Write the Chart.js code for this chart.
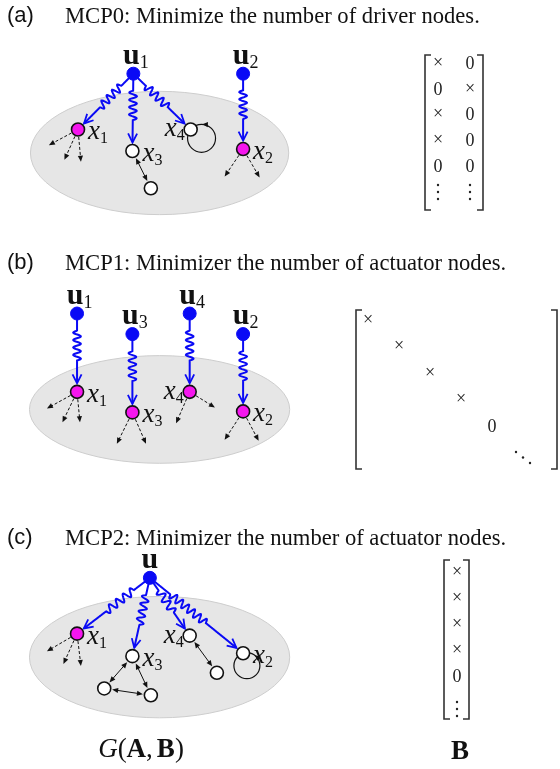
<!DOCTYPE html>
<html>
<head>
<meta charset="utf-8">
<script src="https://cdn.jsdelivr.net/npm/chart.js@4.4.0/dist/chart.umd.min.js"></script>
<style>
html, body { margin: 0; padding: 0; background: #fff; }
#wrap { width: 560px; height: 769px; position: relative; }
</style>
</head>
<body>
<div id="wrap"><canvas id="diagram"></canvas></div>
<script>
// Panel headings
const panelTags = ['(a)', '(b)', '(c)'];
const panelTitles = [
    'MCP0: Minimize the number of driver nodes.',
    'MCP1: Minimizer the number of actuator nodes.',
    'MCP2: Minimizer the number of actuator nodes.'
];

// Input (control) nodes u
const inputNodes = [
    { id: 'a_u1', x: 129, y: 67, name: 'u', sub: '1' },
    { id: 'a_u2', x: 242, y: 67, name: 'u', sub: '2' },
    { id: 'b_u1', x: 71, y: 312, name: 'u', sub: '1' },
    { id: 'b_u3', x: 128, y: 333, name: 'u', sub: '3' },
    { id: 'b_u4', x: 187, y: 312, name: 'u', sub: '4' },
    { id: 'b_u2', x: 242, y: 333, name: 'u', sub: '2' },
    { id: 'c_u', x: 146, y: 582, name: 'u', sub: '' }
];

// State nodes that are driver / actuator nodes (magenta)
const drivenNodes = [
    { id: 'a_x1', x: 72, y: 124, name: 'x', sub: '1' },
    { id: 'a_x2', x: 242, y: 144, name: 'x', sub: '2' },
    { id: 'b_x1', x: 71, y: 392, name: 'x', sub: '1' },
    { id: 'b_x3', x: 128, y: 413, name: 'x', sub: '3' },
    { id: 'b_x4', x: 187, y: 392, name: 'x', sub: '4' },
    { id: 'b_x2', x: 242, y: 412, name: 'x', sub: '2' },
    { id: 'c_x1', x: 71, y: 639, name: 'x', sub: '1' }
];

// Other state nodes (white)
const freeNodes = [
    { id: 'a_x3', x: 128, y: 146, name: 'x', sub: '3' },
    { id: 'a_x4', x: 188, y: 124, name: 'x', sub: '4' },
    { id: 'a_n1', x: 147, y: 184, name: '', sub: '' },
    { id: 'c_x3', x: 128, y: 662, name: 'x', sub: '3' },
    { id: 'c_x4', x: 187, y: 641, name: 'x', sub: '4' },
    { id: 'c_x2', x: 242, y: 659, name: 'x', sub: '2' },
    { id: 'c_n1', x: 99, y: 695, name: '', sub: '' },
    { id: 'c_n2', x: 147, y: 702, name: '', sub: '' },
    { id: 'c_n3', x: 215, y: 679, name: '', sub: '' }
];

// Wavy control links u -> x
const controlEdges = [
    ['a_u1', 'a_x1'], ['a_u1', 'a_x3'], ['a_u1', 'a_x4'], ['a_u2', 'a_x2'],
    ['b_u1', 'b_x1'], ['b_u3', 'b_x3'], ['b_u4', 'b_x4'], ['b_u2', 'b_x2'],
    ['c_u', 'c_x1'], ['c_u', 'c_x3'], ['c_u', 'c_x4'], ['c_u', 'c_x2']
];

// Dashed outgoing links (node, end x, end y)
const leakEdges = [
    ['a_x1', 42, 140], ['a_x1', 58, 155], ['a_x1', 75, 157],
    ['a_x2', 223, 172], ['a_x2', 259, 173],
    ['b_x1', 40, 409], ['b_x1', 56, 423], ['b_x1', 74, 423],
    ['b_x3', 112, 445], ['b_x3', 142, 445],
    ['b_x4', 173, 424], ['b_x4', 213, 408],
    ['b_x2', 223, 441], ['b_x2', 258, 442],
    ['c_x1', 40, 657], ['c_x1', 57, 670], ['c_x1', 75, 672]
];

// Two-way links between state nodes
const mutualEdges = [
    ['a_x3', 'a_n1'],
    ['c_x3', 'c_n1'], ['c_x3', 'c_n2'], ['c_n1', 'c_n2'], ['c_x4', 'c_n3']
];

// Self loops: node, direction (deg) of the loop centre, loop radius
const selfLoops = [['a_x4', 39, 14], ['c_x2', 73, 13]];

// Network regions (gray ellipses)
const regionCx = [156, 156, 156];
const regionCy = [148, 410, 663];
const regionRx = [133, 134, 134];
const regionRy = [63, 55, 62];

// Input matrices B
const matrixA = [['×', '0'], ['0', '×'], ['×', '0'], ['×', '0'], ['0', '0'], ['vdots', 'vdots']];
const matrixBDiag = ['×', '×', '×', '×', '0', 'ddots'];
const matrixC = [['×'], ['×'], ['×'], ['×'], ['0'], ['vdots']];

// ---- layout ----
const BLUE = '#0a0af5';
const MAGENTA = '#f516ee';
const NODE_R = 6.5;
const SERIF = '"Liberation Serif", "Times New Roman", serif';
const titleY = [23, 270, 545];
const labelLeft = ['a_x4', 'b_x4', 'c_x4'];

const allNodes = {};
[...inputNodes, ...drivenNodes, ...freeNodes].forEach(n => { allNodes[n.id] = n; });

function arrowHead(ctx, tx, ty, ux, uy, len, half, filled) {
    const bx = tx - ux * len, by = ty - uy * len;
    ctx.beginPath();
    ctx.moveTo(bx - uy * half, by + ux * half);
    ctx.lineTo(tx, ty);
    ctx.lineTo(bx + uy * half, by - ux * half);
    if (filled) { ctx.closePath(); ctx.fill(); } else { ctx.stroke(); }
}

function wavyArrow(ctx, a, b, rA, rB) {
    const dx = b.x - a.x, dy = b.y - a.y, L = Math.hypot(dx, dy);
    const ux = dx / L, uy = dy / L, nx = -uy, ny = ux;
    const start = rA, end = L - rB - 1;
    const w0 = L * 0.22, w1 = L * 0.6;
    const waves = Math.max(2, Math.round((w1 - w0) / 8));
    ctx.strokeStyle = BLUE;
    ctx.lineWidth = 2;
    ctx.setLineDash([]);
    ctx.beginPath();
    for (let t = start; t <= end; t += 0.5) {
        let off = 0;
        if (t > w0 && t < w1) off = 3.8 * Math.sin((t - w0) / (w1 - w0) * waves * 2 * Math.PI);
        const px = a.x + ux * t + nx * off, py = a.y + uy * t + ny * off;
        if (t === start) ctx.moveTo(px, py); else ctx.lineTo(px, py);
    }
    ctx.stroke();
    ctx.lineWidth = 1.8;
    arrowHead(ctx, a.x + ux * end, a.y + uy * end, ux, uy, 9, 4.5, false);
}

function plainArrow(ctx, a, b, rA, rB, dashed, twoWay) {
    const dx = b.x - a.x, dy = b.y - a.y, L = Math.hypot(dx, dy);
    const ux = dx / L, uy = dy / L;
    const sx = a.x + ux * rA, sy = a.y + uy * rA;
    const ex = b.x - ux * rB, ey = b.y - uy * rB;
    ctx.strokeStyle = '#111';
    ctx.fillStyle = '#111';
    ctx.lineWidth = 1;
    ctx.setLineDash(dashed ? [3, 2] : []);
    ctx.beginPath();
    ctx.moveTo(sx + (twoWay ? ux * 3 : 0), sy + (twoWay ? uy * 3 : 0));
    ctx.lineTo(ex - ux * 3, ey - uy * 3);
    ctx.stroke();
    ctx.setLineDash([]);
    arrowHead(ctx, ex, ey, ux, uy, 6, 2.6, true);
    if (twoWay) arrowHead(ctx, sx, sy, -ux, -uy, 6, 2.6, true);
}

function symbol(ctx, x, y, main, sub, mainFont, subFont, align) {
    ctx.font = mainFont;
    const mw = ctx.measureText(main).width;
    ctx.font = subFont;
    const sw = sub ? ctx.measureText(sub).width : 0;
    let x0 = x;
    if (align === 'right') x0 = x - mw - sw;
    if (align === 'center') x0 = x - mw / 2;
    ctx.fillStyle = '#111';
    ctx.textAlign = 'left';
    ctx.textBaseline = 'alphabetic';
    ctx.font = mainFont;
    ctx.fillText(main, x0, y);
    if (sub) {
        ctx.font = subFont;
        ctx.fillText(sub, x0 + mw, y + 4);
    }
}

function dots(ctx, x, y, diagonal) {
    ctx.fillStyle = '#222';
    for (let i = -1; i <= 1; i++) {
        ctx.beginPath();
        ctx.arc(x + (diagonal ? i * 7 : 0), y + i * (diagonal ? 5.5 : 7), 1.2, 0, Math.PI * 2);
        ctx.fill();
    }
}

function entry(ctx, text, x, y) {
    if (text === 'vdots') return dots(ctx, x, y, false);
    if (text === 'ddots') return dots(ctx, x, y, true);
    ctx.fillStyle = '#222';
    ctx.font = '18px ' + SERIF;
    ctx.textAlign = 'center';
    ctx.textBaseline = 'middle';
    ctx.fillText(text, x, y + (text === '×' ? 0 : 1));
}

function bracket(ctx, x, top, bottom, dir) {
    ctx.strokeStyle = '#333';
    ctx.lineWidth = 1.6;
    ctx.setLineDash([]);
    ctx.beginPath();
    ctx.moveTo(x + dir * 6, top);
    ctx.lineTo(x, top);
    ctx.lineTo(x, bottom);
    ctx.lineTo(x + dir * 6, bottom);
    ctx.stroke();
}

const diagramPlugin = {
    id: 'diagram',
    beforeDatasetsDraw(chart) {
        const { ctx, scales: { x, y } } = chart;
        const px = n => ({ x: x.getPixelForValue(n.x), y: y.getPixelForValue(n.y) });
        ctx.save();
        // regions
        regionCx.forEach((cx, i) => {
            const c = { x: x.getPixelForValue(cx), y: y.getPixelForValue(regionCy[i]) };
            const rx = Math.abs(x.getPixelForValue(cx + regionRx[i]) - c.x);
            const ry = Math.abs(y.getPixelForValue(regionCy[i] + regionRy[i]) - c.y);
            ctx.beginPath();
            ctx.ellipse(c.x, c.y, rx, ry, 0, 0, Math.PI * 2);
            ctx.fillStyle = '#e6e6e6';
            ctx.fill();
            ctx.strokeStyle = '#cdcdcd';
            ctx.lineWidth = 1;
            ctx.stroke();
        });
        // self loops
        selfLoops.forEach(([id, deg, r]) => {
            const n = px(allNodes[id]);
            const a = deg * Math.PI / 180;
            const cx = n.x + Math.cos(a) * r, cy = n.y + Math.sin(a) * r;
            ctx.strokeStyle = '#111';
            ctx.lineWidth = 1.2;
            ctx.beginPath();
            ctx.arc(cx, cy, r, 0, Math.PI * 2);
            ctx.stroke();
            // arrow running back into the node
            const ang = a + Math.PI + 0.95;
            const hx = cx + Math.cos(ang) * r, hy = cy + Math.sin(ang) * r;
            ctx.fillStyle = '#111';
            arrowHead(ctx, hx, hy, Math.sin(ang), -Math.cos(ang), 5.5, 2.6, true);
        });
        // dashed outgoing links
        leakEdges.forEach(([id, ex, ey]) => {
            plainArrow(ctx, px(allNodes[id]), px({ x: ex, y: ey }), NODE_R + 1, 0, true, false);
        });
        // two-way links
        mutualEdges.forEach(([s, t]) => {
            plainArrow(ctx, px(allNodes[s]), px(allNodes[t]), NODE_R + 1.5, NODE_R + 1.5, false, true);
        });
        // control links
        controlEdges.forEach(([s, t]) => {
            wavyArrow(ctx, px(allNodes[s]), px(allNodes[t]), 6, NODE_R + 1);
        });
        ctx.restore();
    },
    afterDatasetsDraw(chart) {
        const { ctx, scales: { x, y } } = chart;
        ctx.save();
        // headings
        panelTags.forEach((tag, i) => {
            ctx.fillStyle = '#111';
            ctx.font = '22px "Liberation Sans", Arial, sans-serif';
            ctx.textAlign = 'left';
            ctx.textBaseline = 'alphabetic';
            ctx.fillText(tag, 7, titleY[i] - 1);
            ctx.font = '22.6px ' + SERIF;
            ctx.fillText(panelTitles[i], 65, titleY[i]);
        });
        // node labels
        inputNodes.forEach(n => {
            const cx = x.getPixelForValue(n.x) - (n.sub ? 2 : 0);
            symbol(ctx, cx, y.getPixelForValue(n.y) - 10, n.name, n.sub,
                'bold 30px ' + SERIF, '18px ' + SERIF, 'center');
        });
        [...drivenNodes, ...freeNodes].filter(n => n.name).forEach(n => {
            const left = labelLeft.includes(n.id);
            const nx = x.getPixelForValue(n.x), ny = y.getPixelForValue(n.y);
            symbol(ctx, left ? nx - 6 : nx + 10, ny + (left ? 7 : 10), n.name, n.sub,
                'italic 27px ' + SERIF, '16px ' + SERIF, left ? 'right' : 'left');
        });
        // matrix (a)
        bracket(ctx, 425, 55, 210, 1);
        bracket(ctx, 483, 55, 210, -1);
        matrixA.forEach((row, r) => row.forEach((v, c) => entry(ctx, v, 438 + c * 32, 63 + r * 25.8)));
        // matrix (b)
        bracket(ctx, 356, 310, 469, 1);
        bracket(ctx, 557, 310, 469, -1);
        matrixBDiag.forEach((v, k) => entry(ctx, v, 368 + k * 31, 320 + k * 26.5 + (v === 'ddots' ? 5 : 0)));
        // matrix (c)
        bracket(ctx, 444, 560, 719, 1);
        bracket(ctx, 469, 560, 719, -1);
        matrixC.forEach((row, r) => entry(ctx, row[0], 457, 572 + r * 26 + (row[0] === 'vdots' ? 7 : 0)));
        // bottom captions
        const parts = [['G', 'italic 27px '], ['(', '27px '], ['A', 'bold 27px '], [',', '27px '], ['B', 'bold 27px '], [')', '27px ']];
        let total = 0;
        parts.forEach(([t, f]) => { ctx.font = f + SERIF; total += ctx.measureText(t).width + (t === ',' ? 4 : 0); });
        let cx = 141 - total / 2;
        ctx.fillStyle = '#111';
        ctx.textAlign = 'left';
        ctx.textBaseline = 'alphabetic';
        parts.forEach(([t, f]) => {
            ctx.font = f + SERIF;
            ctx.fillText(t, cx, 757);
            cx += ctx.measureText(t).width + (t === ',' ? 4 : 0);
        });
        ctx.font = 'bold 27px ' + SERIF;
        ctx.textAlign = 'center';
        ctx.fillText('B', 460, 759);
        ctx.restore();
    }
};

const toPoints = list => list.map(n => ({ x: n.x, y: n.y }));

new Chart(document.getElementById('diagram'), {
    type: 'scatter',
    data: {
        datasets: [
            {
                label: 'inputs',
                data: toPoints(inputNodes),
                backgroundColor: BLUE,
                borderColor: BLUE,
                pointRadius: 6.5,
                borderWidth: 1
            },
            {
                label: 'driven',
                data: toPoints(drivenNodes),
                backgroundColor: MAGENTA,
                borderColor: '#111',
                pointRadius: NODE_R,
                borderWidth: 1.6
            },
            {
                label: 'free',
                data: toPoints(freeNodes),
                backgroundColor: '#fff',
                borderColor: '#111',
                pointRadius: NODE_R,
                borderWidth: 1.6
            }
        ]
    },
    options: {
        responsive: true,
        maintainAspectRatio: false,
        animation: false,
        clip: false,
        layout: { padding: 0 },
        events: [],
        plugins: {
            legend: { display: false },
            tooltip: { enabled: false }
        },
        scales: {
            x: { type: 'linear', min: 0, max: 560, display: false },
            y: { type: 'linear', min: 0, max: 769, reverse: true, display: false }
        }
    },
    plugins: [diagramPlugin]
});
</script>
</body>
</html>
